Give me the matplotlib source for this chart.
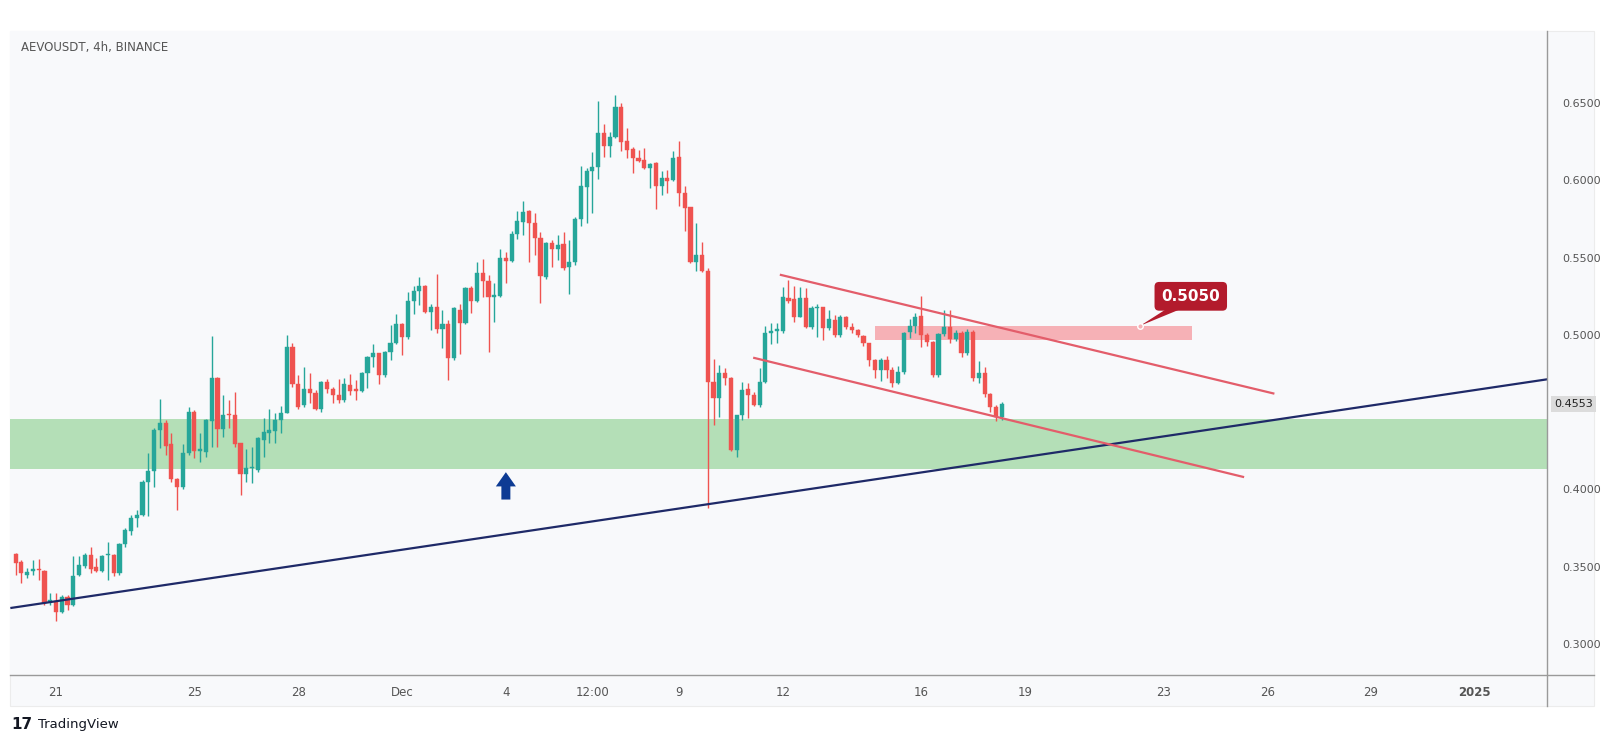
import matplotlib
matplotlib.use('Agg')
import matplotlib.pyplot as plt
import matplotlib.dates as mdates
import matplotlib.transforms as mtransforms
from matplotlib.patches import Rectangle, Polygon
from matplotlib.lines import Line2D
import pandas as pd

# 4h candles, AEVOUSDT
opens = [.3583, .3533, .3447, .3475, .3478, .3475, .3270, .3281, .3210, .3302,
         .3253, .3447, .3505, .3574, .3497, .3470, .3574, .3574, .3458, .3645,
         .3734, .3815, .3835, .4050, .4122, .4385, .4432, .4294, .4068, .4014,
         .4234, .4503, .4251, .4245, .4445, .4719, .4389, .4482, .4482, .4299,
         .4100, .4137, .4126, .4320, .4368, .4381, .4450, .4497, .4920, .4683,
         .4545, .4648, .4622, .4519, .4695, .4648, .4614, .4579, .4678, .4652,
         .4639, .4751, .4855, .4881, .4738, .4892, .4950, .5071, .4984, .5221,
         .5286, .5316, .5150, .5183, .5036, .5071, .4849, .5161, .5079, .5301,
         .5221, .5398, .5351, .5243, .5252, .5495, .5480, .5653, .5733, .5804,
         .5722, .5625, .5377, .5597, .5554, .5588, .5437, .5474, .5748, .5959,
         .6062, .6084, .6308, .6222, .6282, .6472, .6257, .6200, .6142, .6131,
         .6078, .6110, .5963, .6013, .6002, .6149, .5916, .5825, .5474, .5517,
         .5416, .4698, .4590, .4756, .4719, .4256, .4482, .4648, .4612, .4547,
         .4698, .5011, .5028, .5028, .5237, .5230, .5118, .5237, .5054, .5172,
         .5179, .5043, .5097, .5000, .5117, .5053, .5031, .4992, .4945, .4837,
         .4773, .4837, .4773, .4691, .4762, .5020, .5057, .5122, .4999, .4956,
         .4740, .5005, .5053, .4971, .5014, .4880, .5020, .4719, .4755, .4617,
         .4535, .4466]
highs = [.3590, .3544, .3490, .3544, .3550, .3480, .3328, .3328, .3317, .3317,
         .3570, .3570, .3587, .3630, .3555, .3574, .3662, .3583, .3652, .3749,
         .3835, .3870, .4061, .4238, .4396, .4583, .4450, .4363, .4072, .4294,
         .4536, .4514, .4363, .4454, .4993, .4730, .4611, .4580, .4633, .4303,
         .4260, .4277, .4342, .4460, .4519, .4493, .4540, .4999, .4950, .4741,
         .4795, .4756, .4644, .4700, .4713, .4665, .4713, .4719, .4747, .4708,
         .4760, .4864, .4939, .4885, .4898, .5062, .5136, .5080, .5280, .5316,
         .5377, .5323, .5200, .5394, .5161, .5097, .5183, .5200, .5312, .5316,
         .5474, .5489, .5388, .5334, .5554, .5538, .5674, .5804, .5868, .5808,
         .5786, .5668, .5603, .5614, .5646, .5668, .5614, .5765, .6093, .6078,
         .6185, .6515, .6364, .6315, .6552, .6502, .6336, .6213, .6196, .6207,
         .6110, .6121, .6063, .6067, .6192, .6257, .5963, .5830, .5726, .5603,
         .5431, .4842, .4806, .4784, .4730, .4485, .4698, .4692, .4633, .4784,
         .5058, .5075, .5075, .5308, .5356, .5317, .5308, .5302, .5187, .5200,
         .5183, .5161, .5129, .5129, .5125, .5075, .5040, .5000, .4950, .4845,
         .4850, .4862, .4790, .4800, .5020, .5100, .5140, .5254, .5010, .4960,
         .5010, .5160, .5160, .5030, .5025, .5040, .5030, .4830, .4790, .4625,
         .4545, .4565]
lows = [.3447, .3393, .3425, .3447, .3415, .3253, .3253, .3152, .3199, .3220,
        .3247, .3441, .3490, .3458, .3468, .3466, .3415, .3440, .3447, .3630,
        .3706, .3760, .3829, .3829, .4018, .4266, .4223, .4050, .3867, .4001,
        .4223, .4202, .4180, .4212, .4277, .4277, .4340, .4396, .4277, .3964,
        .4051, .4040, .4115, .4212, .4299, .4299, .4363, .4493, .4661, .4519,
        .4536, .4557, .4514, .4501, .4622, .4557, .4562, .4568, .4609, .4579,
        .4631, .4654, .4795, .4683, .4730, .4838, .4941, .4870, .4971, .5135,
        .5194, .5140, .5032, .5010, .4913, .4708, .4838, .4877, .5071, .5140,
        .5215, .5243, .4892, .5086, .5243, .5338, .5474, .5618, .5646, .5474,
        .5517, .5209, .5360, .5442, .5485, .5420, .5265, .5452, .5705, .5722,
        .5787, .6006, .6153, .6153, .6272, .6192, .6142, .6045, .6121, .6071,
        .5948, .5812, .5905, .5916, .5998, .5834, .5674, .5468, .5416, .5409,
        .3880, .4417, .4467, .4676, .4251, .4213, .4450, .4460, .4541, .4536,
        .4687, .4942, .4946, .5011, .5205, .5086, .5114, .5043, .5037, .4989,
        .4967, .5032, .4989, .4989, .5040, .5010, .4985, .4930, .4800, .4720,
        .4700, .4720, .4665, .4680, .4750, .4980, .5010, .4920, .4930, .4730,
        .4730, .4990, .4950, .4960, .4860, .4870, .4700, .4690, .4600, .4500,
        .4440, .4450]
closes = [.3527, .3458, .3469, .3477, .3476, .3268, .3285, .3210, .3302, .3253,
          .3440, .3512, .3574, .3488, .3470, .3570, .3576, .3458, .3645, .3738,
          .3815, .3835, .4050, .4122, .4385, .4432, .4283, .4068, .4014, .4234,
          .4503, .4251, .4253, .4450, .4719, .4389, .4482, .4480, .4294, .4100,
          .4137, .4139, .4331, .4374, .4385, .4450, .4497, .4924, .4683, .4536,
          .4648, .4622, .4519, .4695, .4648, .4614, .4579, .4683, .4639, .4639,
          .4751, .4855, .4881, .4738, .4892, .4950, .5071, .4989, .5221, .5286,
          .5316, .5150, .5183, .5036, .5071, .4849, .5172, .5079, .5301, .5221,
          .5398, .5351, .5243, .5256, .5495, .5480, .5653, .5739, .5798, .5722,
          .5625, .5381, .5597, .5554, .5582, .5431, .5474, .5748, .5963, .6062,
          .6084, .6308, .6222, .6282, .6472, .6250, .6196, .6142, .6127, .6078,
          .6106, .5963, .6013, .5996, .6142, .5916, .5819, .5474, .5517, .5416,
          .4698, .4590, .4756, .4719, .4256, .4482, .4644, .4612, .4547, .4698,
          .5011, .5028, .5030, .5243, .5222, .5118, .5237, .5054, .5172, .5183,
          .5043, .5101, .5000, .5117, .5053, .5031, .4999, .4945, .4837, .4773,
          .4837, .4773, .4691, .4762, .5010, .5057, .5117, .4999, .4956, .4740,
          .5005, .5053, .4971, .5014, .4880, .5020, .4719, .4755, .4617, .4535,
          .4466, .4553]
first_candle = '2024-11-19 20:00'

# the 0.4500 label sits under the last-price tag
price_ticks = [0.30, 0.35, 0.40, 0.50, 0.55, 0.60, 0.65]
date_ticks = ['2024-11-21', '2024-11-25', '2024-11-28', '2024-12-01', '2024-12-04',
              '2024-12-06 12:00', '2024-12-09', '2024-12-12', '2024-12-16',
              '2024-12-19', '2024-12-23', '2024-12-26', '2024-12-29', '2025-01-01']
date_labels = ['21', '25', '28', 'Dec', '4', '12:00', '9', '12', '16', '19',
               '23', '26', '29', '2025']
x_range = ['2024-11-19 16:20', '2025-01-03 02:10']
y_range = [0.28, 0.6967]

# drawings
support_zone = [0.4133, 0.4453]
resist_box = ['2024-12-14 16:20', '2024-12-23 19:40', 0.4967, 0.5060]
resist_level = '0.5050'
trend_blue = [('2024-11-19 16:20', 0.3233), ('2025-01-03 02:10', 0.4713)]
channel_top = [('2024-12-11 22:00', 0.5390), ('2024-12-26 05:00', 0.4620)]
channel_bot = [('2024-12-11 03:30', 0.4853), ('2024-12-25 08:00', 0.4080)]
arrow_at = ('2024-12-04 00:00', 0.3935, 0.4112)
last_price = closes[-1]

UP, DOWN = '#26a69a', '#ef5350'
BG = '#f8f9fb'
AXIS = '#9a9a9a'


def dnum(s):
    return mdates.date2num(pd.Timestamp(s))


fig = plt.figure(figsize=(16.15, 7.44), dpi=100)
fig.patch.set_facecolor('white')

# chart panel behind plot, price scale and time scale
L, B, R, T = 0.0064, 0.0928, 0.958, 0.9584
panel = Rectangle((L, 0.051), 0.987 - L, T - 0.051, transform=fig.transFigure,
                  facecolor=BG, edgecolor='#ececec', lw=0.8, zorder=-5)
fig.add_artist(panel)

ax = fig.add_axes([L, B, R - L, T - B])
ax.set_facecolor(BG)

times = pd.date_range(first_candle, periods=len(closes), freq='4h')
xs = mdates.date2num(times)
w = 0.72 / 6

for x, o, h, l, c in zip(xs, opens, highs, lows, closes):
    col = UP if c >= o else DOWN
    ax.vlines(x, l, h, color=col, lw=1.0, zorder=3)
    body = max(abs(c - o), 0.0009)
    ax.bar(x, body, width=w, bottom=min(o, c), color=col, edgecolor=col, lw=0.3, zorder=4)

# support zone
ax.axhspan(support_zone[0], support_zone[1], color='#b4dfb7', zorder=1, lw=0)

# resistance box
rx0, rx1 = dnum(resist_box[0]), dnum(resist_box[1])
ax.add_patch(Rectangle((rx0, resist_box[2]), rx1 - rx0, resist_box[3] - resist_box[2],
                       facecolor='#f6b1b6', edgecolor='none', zorder=2))

# trend lines
for pts, col in [(trend_blue, '#1f2a68'), (channel_top, '#e35d6a'), (channel_bot, '#e35d6a')]:
    ax.plot([dnum(p[0]) for p in pts], [p[1] for p in pts], color=col, lw=1.6,
            zorder=5, solid_capstyle='butt')

# price callout
px, py = dnum('2024-12-22 08:00'), 0.5060
bx, by = dnum('2024-12-23 19:00'), 0.5250
ax.add_patch(Polygon([[px, py], [bx - 0.55, by - 0.006], [bx - 0.05, by - 0.006]],
                     closed=True, facecolor='#b31b2c', edgecolor='none', zorder=6))
ax.plot(px, py, 'o', ms=4, mfc='#f6b1b6', mec='white', mew=1, zorder=7)
ax.text(bx, by, resist_level, ha='center', va='center', color='white', fontsize=11,
        fontweight='bold', zorder=8,
        bbox=dict(boxstyle='round,pad=0.45,rounding_size=0.3', fc='#b31b2c', ec='none'))

# blue arrow
axx = dnum(arrow_at[0])
y0, y1 = arrow_at[1], arrow_at[2]
yh = y0 + (y1 - y0) * 0.48
hw, sw = 0.29, 0.13
ax.add_patch(Polygon([[axx - sw, y0], [axx + sw, y0], [axx + sw, yh], [axx + hw, yh],
                      [axx, y1], [axx - hw, yh], [axx - sw, yh]],
                     closed=True, facecolor='#0d3b94', edgecolor='none', zorder=6))

ax.set_xlim(dnum(x_range[0]), dnum(x_range[1]))
ax.set_ylim(*y_range)

for s in ax.spines.values():
    s.set_visible(False)

# scale separators run across the whole panel
fig.add_artist(Line2D([R, R], [0.051, T], transform=fig.transFigure, color=AXIS, lw=1.0))
fig.add_artist(Line2D([L, 0.987], [B, B], transform=fig.transFigure, color=AXIS, lw=1.0))

ax.yaxis.tick_right()
ax.set_yticks(price_ticks)
ax.set_yticklabels([f'{v:.4f}' for v in price_ticks])
ax.tick_params(axis='y', length=0, pad=11, labelsize=8, labelcolor='#555555')

ax.set_xticks([dnum(d) for d in date_ticks])
ax.set_xticklabels(date_labels)
ax.tick_params(axis='x', length=0, pad=8, labelsize=8.5, labelcolor='#555555')
ax.get_xticklabels()[-1].set_fontweight('bold')

# last price tag
trans = mtransforms.blended_transform_factory(ax.transAxes, ax.transData)
ax.text(1.0045, last_price, f'{last_price:.4f}', transform=trans, ha='left', va='center',
        fontsize=8, color='#222222', clip_on=False, zorder=10,
        bbox=dict(boxstyle='square,pad=0.3', fc='#dcdcdc', ec='none'))

fig.text(0.0128, 0.936, 'AEVOUSDT, 4h, BINANCE', fontsize=8.5, color='#555555', va='center')
fig.text(0.0072, 0.026, '17', fontsize=11, fontweight='heavy', color='#131722', va='center')
fig.text(0.0235, 0.026, 'TradingView', fontsize=9.5, color='#131722', va='center')

fig.savefig('out.png', dpi=100, facecolor='white')
